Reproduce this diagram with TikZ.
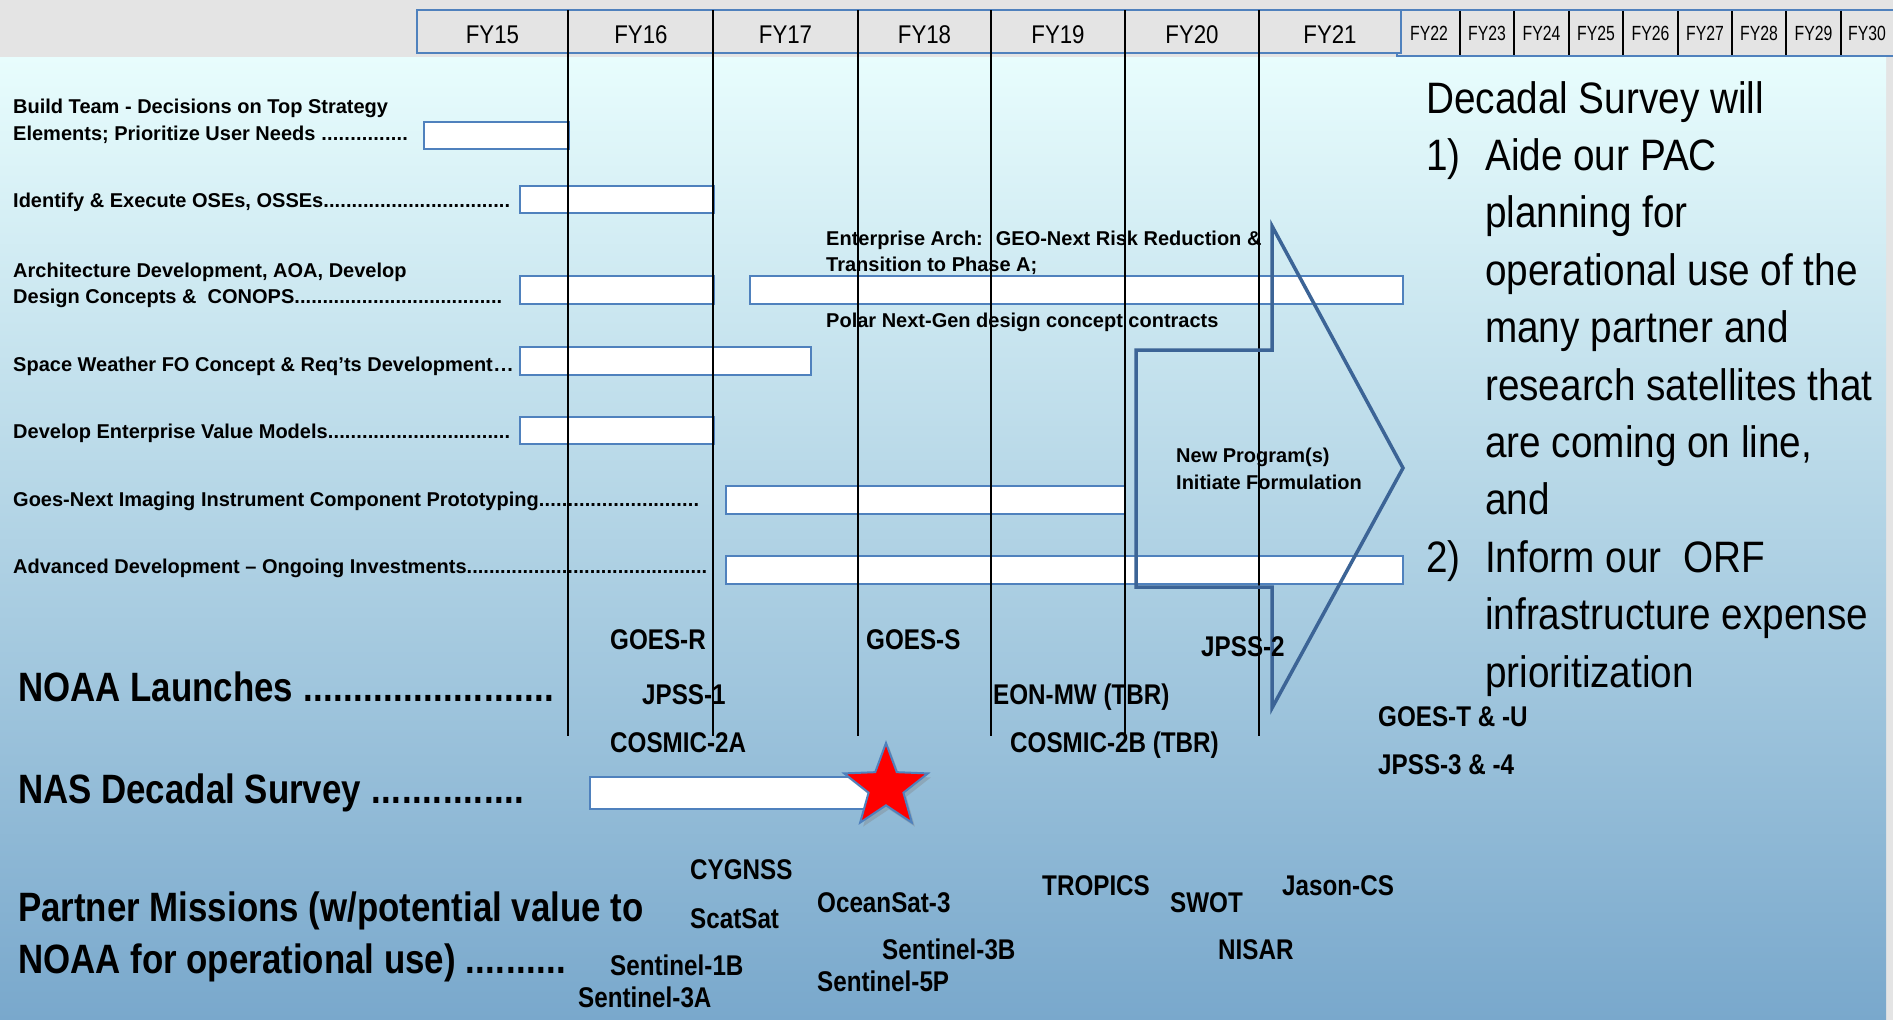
\documentclass[tikz,border=0pt]{standalone}
\usepackage{fontspec}
\setmainfont{Liberation Sans}
\newfontfamily\nsb{Liberation Sans}[FakeStretch=0.85]
\newfontfamily\rfont{Liberation Sans}[FakeStretch=0.88]
\newfontfamily\hfont{Liberation Sans}[FakeStretch=0.87]
\newfontfamily\shfont{Liberation Sans}[FakeStretch=0.77]
\usetikzlibrary{shapes.geometric,shadows}
\definecolor{hdrgrey}{HTML}{E4E4E4}
\definecolor{bgtop}{HTML}{E8FDFD}
\definecolor{bgbot}{HTML}{79A8CC}
\definecolor{barblue}{HTML}{4F81BD}
\definecolor{arrowblue}{HTML}{3C6496}
\newcommand{\dotsto}[2]{\makebox[#1pt][l]{#2\xleaders\hbox{.}\hfill}}
\tikzset{
  bar/.style={draw=barblue, fill=white, line width=2pt},
  vline/.style={black, line width=1.4pt},
  hdrbox/.style={draw=barblue, fill=hdrgrey, line width=2pt},
  hdiv/.style={black, line width=1.4pt},
  lbl/.style={anchor=base west, inner sep=0pt, font=\fontsize{20}{24}\selectfont\bfseries},
  mis/.style={anchor=base west, inner sep=0pt, font=\nsb\fontsize{28.5}{34}\selectfont\bfseries},
  biglbl/.style={anchor=base west, inner sep=0pt, font=\nsb\fontsize{41}{48}\selectfont\bfseries},
  rtxt/.style={anchor=base west, inner sep=0pt, font=\rfont\fontsize{44}{52}\selectfont},
  hdr/.style={anchor=base, inner sep=0pt, font=\hfont\fontsize{25.6}{30}\selectfont},
  shdr/.style={anchor=base, inner sep=0pt, font=\shfont\fontsize{20.5}{24}\selectfont},
  arrowline/.style={draw=arrowblue, line width=3.5pt, line join=miter},
}
\begin{document}
\begin{tikzpicture}[x=1pt,y=-1pt]
\useasboundingbox (0,0) rectangle (1893,1020);
% background
\fill[hdrgrey] (0,0) rectangle (1893,1020);
\shade[top color=bgtop, bottom color=bgbot] (0,57) rectangle (1886,1020);

% header
\path[hdrbox] (1397,10) rectangle (1894,56);
\path[hdrbox] (417,10) rectangle (1401,53);
\foreach \x in {1460,1514,1569,1623,1678,1732,1786,1841}
  \draw[hdiv] (\x,11) -- (\x,55);
\node[hdr] (fy15) at (492.5,43) {FY15};
\node[hdr] (fy16) at (641,43) {FY16};
\node[hdr] (fy17) at (785.5,43) {FY17};
\node[hdr] (fy18) at (924.5,43) {FY18};
\node[hdr] (fy19) at (1058,43) {FY19};
\node[hdr] (fy20) at (1192,43) {FY20};
\node[hdr] (fy21) at (1330,43) {FY21};
\node[shdr] (fy22) at (1429,40.7) {FY22};
\node[shdr] (fy23) at (1487,40.7) {FY23};
\node[shdr] (fy24) at (1541.5,40.7) {FY24};
\node[shdr] (fy25) at (1596,40.7) {FY25};
\node[shdr] (fy26) at (1650.5,40.7) {FY26};
\node[shdr] (fy27) at (1705,40.7) {FY27};
\node[shdr] (fy28) at (1759,40.7) {FY28};
\node[shdr] (fy29) at (1813.5,40.7) {FY29};
\node[shdr] (fy30) at (1867,40.7) {FY30};

% bars
\path[bar] (424,122) rectangle (569,149);
\path[bar] (520,186) rectangle (714,213);
\path[bar] (520,276) rectangle (714,304);
\path[bar] (750,276) rectangle (1403,304);
\path[bar] (520,347) rectangle (811,375);
\path[bar] (520,417) rectangle (714,444);
\path[bar] (726,486) rectangle (1125,514);
\path[bar] (726,556) rectangle (1403,584);
\path[bar] (590,777) rectangle (875,809);

% star
\node[star, star points=5, star point ratio=2.4, minimum size=88pt, inner sep=0pt,
      fill=red, draw=barblue, line width=2pt,
      drop shadow={opacity=0.35, shadow xshift=3pt, shadow yshift=-4pt}] (star) at (886,787) {};

% vertical grid lines
\foreach \x in {568,713,858,991,1125,1259}
  \draw[vline] (\x,10) -- (\x,736);

% big arrow
\draw[arrowline] (1272,226) -- (1403,468) -- (1272,708) -- (1272,587) -- (1136,587) -- (1136,350) -- (1272,350) -- cycle;

% left task labels
\node[lbl] (t1a) at (13,113) {Build Team - Decisions on Top Strategy};
\node[lbl] (t1b) at (13,140) {\dotsto{395}{Elements; Prioritize User Needs }};
\node[lbl] (t2) at (13,207) {\dotsto{497}{Identify \& Execute OSEs, OSSEs}};
\node[lbl] (t3a) at (13,277) {Architecture Development, AOA, Develop};
\node[lbl] (t3b) at (13,303) {\dotsto{489}{Design Concepts \&~ CONOPS}};
\node[lbl] (t4) at (13,371) {\dotsto{501}{Space Weather FO Concept \& Req’ts Development}};
\node[lbl] (t5) at (13,438) {\dotsto{497}{Develop Enterprise Value Models}};
\node[lbl] (t6) at (13,506) {\dotsto{686}{Goes-Next Imaging Instrument Component Prototyping}};
\node[lbl] (t7) at (13,573) {\dotsto{694}{Advanced Development – Ongoing Investments}};

% middle labels
\node[lbl] (ea1) at (826,245) {Enterprise Arch:~ GEO-Next Risk Reduction \&};
\node[lbl] (ea2) at (826,271) {Transition to Phase A;};
\node[lbl] (polar) at (826,327) {Polar Next-Gen design concept contracts};
\node[lbl] (np1) at (1176,462) {New Program(s)};
\node[lbl] (np2) at (1176,489) {Initiate Formulation};

% big left labels
\node[biglbl] (noaa) at (18,701) {\dotsto{536}{NOAA Launches }};
\node[biglbl] (nas) at (18,803) {\dotsto{507}{NAS Decadal Survey }};
\node[biglbl] (pm1) at (18,921) {Partner Missions (w/potential value to};
\node[biglbl] (pm2) at (18,973) {\dotsto{548}{NOAA for operational use) }};

% launches
\node[mis] (goesr) at (610,649) {GOES-R};
\node[mis] (goess) at (866,649) {GOES-S};
\node[mis] (jpss2) at (1201,656) {JPSS-2};
\node[mis] (jpss1) at (642,704) {JPSS-1};
\node[mis] (eon) at (993,704) {EON-MW (TBR)};
\node[mis] (cos2a) at (610,752) {COSMIC-2A};
\node[mis] (cos2b) at (1010,752) {COSMIC-2B (TBR)};
\node[mis] (goestu) at (1378,726) {GOES-T \& -U};
\node[mis] (jpss34) at (1378,774) {JPSS-3 \& -4};

% partner missions
\node[mis] (cyg) at (690,879) {CYGNSS};
\node[mis] (scat) at (690,928) {ScatSat};
\node[mis] (ocean) at (817,912) {OceanSat-3};
\node[mis] (s1b) at (610,975) {Sentinel-1B};
\node[mis] (s3a) at (578,1007) {Sentinel-3A};
\node[mis] (s3b) at (882,959) {Sentinel-3B};
\node[mis] (s5p) at (817,991) {Sentinel-5P};
\node[mis] (trop) at (1042,895) {TROPICS};
\node[mis] (swot) at (1170,912) {SWOT};
\node[mis] (jason) at (1282,895) {Jason-CS};
\node[mis] (nisar) at (1218,959) {NISAR};

% right text
\node[rtxt] (r0) at (1426,113) {Decadal Survey will};
\node[rtxt] (n1) at (1426,170.4) {1)};
\node[rtxt] (r1) at (1485,170.4) {Aide our PAC};
\node[rtxt] (r2) at (1485,227.8) {planning for};
\node[rtxt] (r3) at (1485,285.2) {operational use of the};
\node[rtxt] (r4) at (1485,342.6) {many partner and};
\node[rtxt] (r5) at (1485,400) {research satellites that};
\node[rtxt] (r6) at (1485,457.4) {are coming on line,};
\node[rtxt] (r7) at (1485,514.8) {and};
\node[rtxt] (n2) at (1426,572.2) {2)};
\node[rtxt] (r8) at (1485,572.2) {Inform our~ ORF};
\node[rtxt] (r9) at (1485,629.6) {infrastructure expense};
\node[rtxt] (r10) at (1485,687) {prioritization};
\end{tikzpicture}
\end{document}
